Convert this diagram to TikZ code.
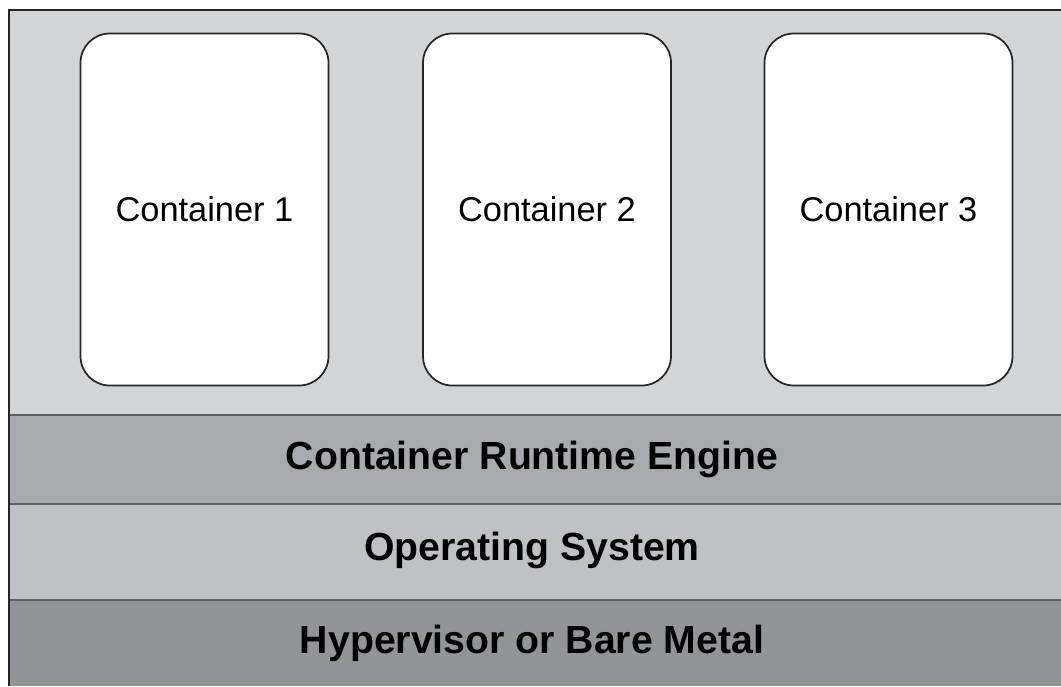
\documentclass[tikz,border=0pt]{standalone}
\usepackage{fontspec}
\setmainfont{Liberation Sans}
\usepackage{tikz}

\definecolor{topgray}{HTML}{D3D4D6}
\definecolor{enginegray}{HTML}{A9AAAD}
\definecolor{osgray}{HTML}{C0C1C4}
\definecolor{metalgray}{HTML}{939498}
\definecolor{rulegray}{HTML}{5E5F62}

\begin{document}
\begin{tikzpicture}[x=0.75pt, y=-0.75pt,
    box/.style={draw=black!85, line width=1.3pt, fill=white, rounded corners=22pt,
      minimum width=186pt, minimum height=264pt, inner sep=0pt,
      font=\fontsize{25.8}{30}\selectfont},
    layer/.style={font=\bfseries\fontsize{29.4}{34}\selectfont, inner sep=0pt}]
        \useasboundingbox (0,0) rectangle (1061,686);
        % Layers
        \fill[topgray] (9,10) rectangle (1061,415);
        \fill[enginegray] (9,415) rectangle (1061,504);
        \fill[osgray] (9,504) rectangle (1061,600);
        \fill[metalgray] (9,600) rectangle (1061,686);
        \draw[rulegray, line width=1.8pt] (9,415) -- (1061,415);
        \draw[rulegray, line width=1.8pt] (9,504) -- (1061,504);
        \draw[rulegray, line width=1.8pt] (9,600) -- (1061,600);
        \draw[black!85, line width=1.6pt] (9,686) -- (9,10) -- (1061,10);
        % Containers
        \node[box] (c1) at (204.5,209.5) {Container 1};
        \node[box] (c2) at (547,209.5) {Container 2};
        \node[box] (c3) at (888.5,209.5) {Container 3};
        % Labels
        \node[layer] (engine) at (532,459) {Container Runtime Engine};
        \node[layer] (os) at (532,550) {Operating System};
        \node[layer] (metal) at (532,643) {Hypervisor or Bare Metal};
      \end{tikzpicture}
\end{document}
